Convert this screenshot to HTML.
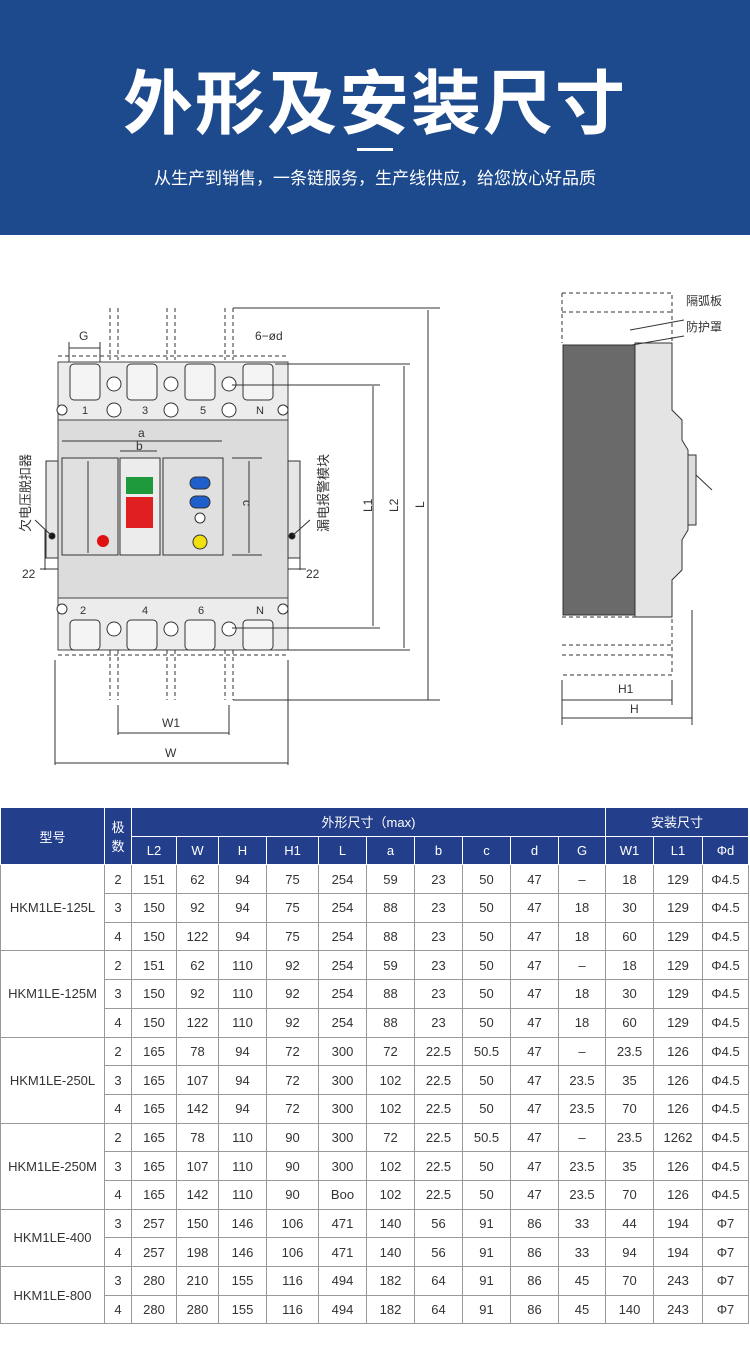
<!DOCTYPE html>
<html><head><meta charset="utf-8"><style>
body{margin:0;width:750px;height:1354px;background:#fff;font-family:"Liberation Sans","Noto Sans CJK SC",sans-serif;position:relative;overflow:hidden}
.banner{position:absolute;left:0;top:0;width:750px;height:235px;background:#1d4a8c}
.t1{position:absolute;left:0;width:750px;top:48px;text-align:center;color:#fff;font-size:70px;font-weight:bold;letter-spacing:2px;font-family:"Noto Sans CJK SC",sans-serif}
.bar{position:absolute;left:357px;top:148px;width:36px;height:3px;background:#fff}
.t2{position:absolute;left:0;width:750px;top:164px;text-align:center;color:#fff;font-size:17px}
table{position:absolute;left:0;top:807px;border-collapse:collapse;table-layout:fixed;font-size:13px;color:#333}
td,th{border:1px solid #999;text-align:center;padding:0;height:27.7px}
th{background:#233f8b;color:#fff;font-weight:normal;border-color:#fff}
</style></head><body>
<div class="banner"><div class="t1">外形及安装尺寸</div><div class="bar"></div><div class="t2">从生产到销售，一条链服务，生产线供应，给您放心好品质</div></div>

<svg style="position:absolute;left:0;top:235px" width="750" height="570" viewBox="0 235 750 570" font-family="Liberation Sans" font-size="11" fill="none" stroke="#333">
<rect x="58" y="362" width="230" height="288" fill="#e6e6e6" stroke="#444"/>
<rect x="58" y="362" width="230" height="58" fill="#ececec" stroke="#444"/>
<rect x="58" y="598" width="230" height="52" fill="#ececec" stroke="#444"/>
<rect x="58" y="420" width="230" height="178" fill="#dcdcdc" stroke="#444"/>
<path d="M58 356H288M58 655H288" stroke-dasharray="4 3"/>
<g fill="#f4f4f4"><rect x="70" y="364" width="30" height="36" rx="4"/><rect x="127" y="364" width="30" height="36" rx="4"/><rect x="185" y="364" width="30" height="36" rx="4"/><rect x="243" y="364" width="30" height="36" rx="4"/>
<rect x="70" y="620" width="30" height="30" rx="4"/><rect x="127" y="620" width="30" height="30" rx="4"/><rect x="185" y="620" width="30" height="30" rx="4"/><rect x="243" y="620" width="30" height="30" rx="4"/></g>
<g fill="#fff"><circle cx="114" cy="384" r="7"/><circle cx="171" cy="384" r="7"/><circle cx="229" cy="384" r="7"/>
<circle cx="114" cy="410" r="7"/><circle cx="171" cy="410" r="7"/><circle cx="229" cy="410" r="7"/><circle cx="62" cy="410" r="5"/><circle cx="283" cy="410" r="5"/>
<circle cx="114" cy="629" r="7"/><circle cx="171" cy="629" r="7"/><circle cx="229" cy="629" r="7"/><circle cx="62" cy="609" r="5"/><circle cx="283" cy="609" r="5"/></g>
<path d="M110 308V360M118 308V360M167 308V360M175 308V360M225 308V360M233 308V360M110 650V700M118 650V700M167 650V700M175 650V700M225 650V700M233 650V700" stroke-dasharray="4 3"/>
<g fill="#333" stroke="none" font-size="11"><text x="82" y="414">1</text><text x="142" y="414">3</text><text x="200" y="414">5</text><text x="256" y="414">N</text>
<text x="80" y="614">2</text><text x="142" y="614">4</text><text x="198" y="614">6</text><text x="256" y="614">N</text>
<text x="79" y="340" font-size="12">G</text><text x="255" y="340" font-size="12">6−ød</text>
<text x="138" y="437" font-size="12">a</text><text x="136" y="450" font-size="12">b</text>
<text x="130" y="472" font-size="10">ON</text><text x="128" y="549" font-size="10">OFF</text>
<text x="22" y="578" font-size="12">22</text><text x="306" y="578" font-size="12">22</text>
<text x="162" y="727" font-size="12">W1</text><text x="165" y="757" font-size="12">W</text>
<text x="686" y="305" font-size="12" font-family="Noto Sans CJK SC">隔弧板</text><text x="686" y="331" font-size="12" font-family="Noto Sans CJK SC">防护罩</text>
<text x="618" y="693" font-size="12">H1</text><text x="630" y="713" font-size="12">H</text></g>
<g fill="#333" stroke="none" font-size="12"><text transform="translate(76,500) rotate(90)">d</text><text transform="translate(243,500) rotate(90)">c</text>
<text transform="translate(372,512) rotate(-90)">L1</text><text transform="translate(398,512) rotate(-90)">L2</text><text transform="translate(424,508) rotate(-90)">L</text>
<text transform="translate(30,532) rotate(-90)" font-family="Noto Sans CJK SC" font-size="13">欠电压脱扣器</text>
<text transform="translate(328,532) rotate(-90)" font-family="Noto Sans CJK SC" font-size="13">漏电报警模块</text></g>
<rect x="62" y="458" width="56" height="97" fill="#e0e0e0"/><rect x="120" y="458" width="40" height="97" fill="#ececec"/><rect x="163" y="458" width="60" height="97" fill="#e0e0e0"/>
<rect x="126" y="477" width="27" height="17" fill="#1e9a3c" stroke="none"/><rect x="126" y="497" width="27" height="31" fill="#e02020" stroke="none"/>
<circle cx="103" cy="541" r="6" fill="#e01010" stroke="none"/>
<rect x="190" y="477" width="20" height="12" rx="6" fill="#1f5fcc"/><rect x="190" y="496" width="20" height="12" rx="6" fill="#1f5fcc"/>
<circle cx="200" cy="518" r="5" fill="#fff"/><circle cx="200" cy="542" r="7" fill="#f0e010"/>
<rect x="46" y="461" width="12" height="97" fill="#e6e6e6"/><rect x="288" y="461" width="12" height="97" fill="#e6e6e6"/>
<circle cx="52" cy="536" r="3" fill="#111"/><circle cx="292" cy="536" r="3" fill="#111"/>
<path d="M35 520L52 536M310 520L292 536"/>
<path d="M62 441H222M120 451H157M88 461V553M249 461V553M232 458H262M232 555H262M69 348H100M69 342V362M100 342V362"/>
<path d="M233 308H440M275 364H410M232 385H380M232 628H380M275 650H410M233 700H440M428 310V700M404 366V648M373 386V626"/>
<path d="M118 705V735M229 705V735M118 733H229M55 660V765M288 660V765M55 763H288"/>
<path d="M40 569H58M288 569H306M45 530V570M300 530V570"/>
<rect x="563" y="345" width="72" height="270" fill="#6a6a6a" stroke="#333"/>
<path d="M635 343H672V410L682 420V440L688 450V530L682 540V570L672 580V617H635Z" fill="#e4e4e4"/>
<rect x="688" y="455" width="8" height="70" fill="#ddd"/><path d="M696 475L712 490"/>
<path d="M562 293H672V343M562 293V343M562 312H672M562 617H672V675H562M562 645H672M562 655H672" stroke-dasharray="4 3"/>
<path d="M630 330L684 320M632 345L684 336"/>
<path d="M562 680V725M672 680V705M692 610V725M562 700H672M562 718H692"/>
</svg>

<table>
<colgroup><col style="width:104px"><col style="width:27px"><col style="width:45px"><col style="width:42px"><col style="width:48px"><col style="width:52px"><col style="width:48px"><col style="width:48px"><col style="width:48px"><col style="width:48px"><col style="width:48px"><col style="width:47px"><col style="width:48px"><col style="width:49px"><col style="width:46px"></colgroup>
<tr><th rowspan="2">型号</th><th rowspan="2">极<br>数</th><th colspan="10">外形尺寸（max)</th><th colspan="3">安装尺寸</th></tr>
<tr><th>L2</th><th>W</th><th>H</th><th>H1</th><th>L</th><th>a</th><th>b</th><th>c</th><th>d</th><th>G</th><th>W1</th><th>L1</th><th>Φd</th></tr>
<tr><td rowspan="3">HKM1LE-125L</td><td>2</td><td>151</td><td>62</td><td>94</td><td>75</td><td>254</td><td>59</td><td>23</td><td>50</td><td>47</td><td>–</td><td>18</td><td>129</td><td>Φ4.5</td></tr>
<tr><td>3</td><td>150</td><td>92</td><td>94</td><td>75</td><td>254</td><td>88</td><td>23</td><td>50</td><td>47</td><td>18</td><td>30</td><td>129</td><td>Φ4.5</td></tr>
<tr><td>4</td><td>150</td><td>122</td><td>94</td><td>75</td><td>254</td><td>88</td><td>23</td><td>50</td><td>47</td><td>18</td><td>60</td><td>129</td><td>Φ4.5</td></tr>
<tr><td rowspan="3">HKM1LE-125M</td><td>2</td><td>151</td><td>62</td><td>110</td><td>92</td><td>254</td><td>59</td><td>23</td><td>50</td><td>47</td><td>–</td><td>18</td><td>129</td><td>Φ4.5</td></tr>
<tr><td>3</td><td>150</td><td>92</td><td>110</td><td>92</td><td>254</td><td>88</td><td>23</td><td>50</td><td>47</td><td>18</td><td>30</td><td>129</td><td>Φ4.5</td></tr>
<tr><td>4</td><td>150</td><td>122</td><td>110</td><td>92</td><td>254</td><td>88</td><td>23</td><td>50</td><td>47</td><td>18</td><td>60</td><td>129</td><td>Φ4.5</td></tr>
<tr><td rowspan="3">HKM1LE-250L</td><td>2</td><td>165</td><td>78</td><td>94</td><td>72</td><td>300</td><td>72</td><td>22.5</td><td>50.5</td><td>47</td><td>–</td><td>23.5</td><td>126</td><td>Φ4.5</td></tr>
<tr><td>3</td><td>165</td><td>107</td><td>94</td><td>72</td><td>300</td><td>102</td><td>22.5</td><td>50</td><td>47</td><td>23.5</td><td>35</td><td>126</td><td>Φ4.5</td></tr>
<tr><td>4</td><td>165</td><td>142</td><td>94</td><td>72</td><td>300</td><td>102</td><td>22.5</td><td>50</td><td>47</td><td>23.5</td><td>70</td><td>126</td><td>Φ4.5</td></tr>
<tr><td rowspan="3">HKM1LE-250M</td><td>2</td><td>165</td><td>78</td><td>110</td><td>90</td><td>300</td><td>72</td><td>22.5</td><td>50.5</td><td>47</td><td>–</td><td>23.5</td><td>1262</td><td>Φ4.5</td></tr>
<tr><td>3</td><td>165</td><td>107</td><td>110</td><td>90</td><td>300</td><td>102</td><td>22.5</td><td>50</td><td>47</td><td>23.5</td><td>35</td><td>126</td><td>Φ4.5</td></tr>
<tr><td>4</td><td>165</td><td>142</td><td>110</td><td>90</td><td>Boo</td><td>102</td><td>22.5</td><td>50</td><td>47</td><td>23.5</td><td>70</td><td>126</td><td>Φ4.5</td></tr>
<tr><td rowspan="2">HKM1LE-400</td><td>3</td><td>257</td><td>150</td><td>146</td><td>106</td><td>471</td><td>140</td><td>56</td><td>91</td><td>86</td><td>33</td><td>44</td><td>194</td><td>Φ7</td></tr>
<tr><td>4</td><td>257</td><td>198</td><td>146</td><td>106</td><td>471</td><td>140</td><td>56</td><td>91</td><td>86</td><td>33</td><td>94</td><td>194</td><td>Φ7</td></tr>
<tr><td rowspan="2">HKM1LE-800</td><td>3</td><td>280</td><td>210</td><td>155</td><td>116</td><td>494</td><td>182</td><td>64</td><td>91</td><td>86</td><td>45</td><td>70</td><td>243</td><td>Φ7</td></tr>
<tr><td>4</td><td>280</td><td>280</td><td>155</td><td>116</td><td>494</td><td>182</td><td>64</td><td>91</td><td>86</td><td>45</td><td>140</td><td>243</td><td>Φ7</td></tr>
</table>
</body></html>
